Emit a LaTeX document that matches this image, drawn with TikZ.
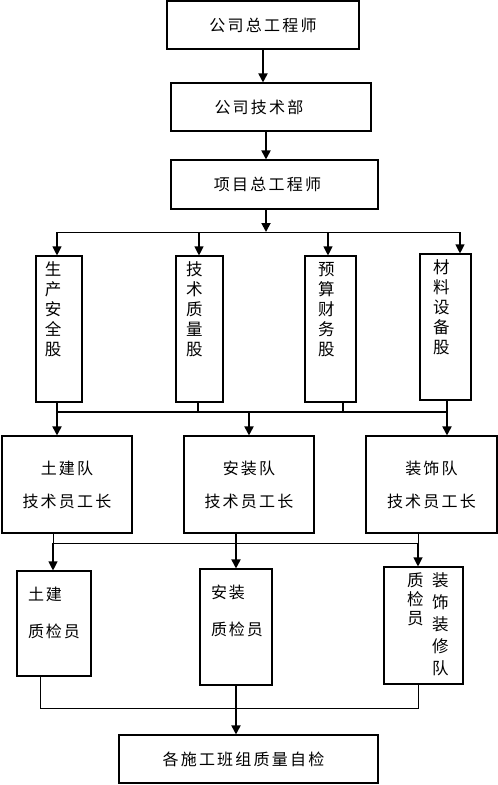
\documentclass[tikz,border=0pt]{standalone}
\usepackage{fontspec}
\setmainfont{Noto Sans CJK SC}
\usetikzlibrary{arrows.meta,positioning}

% top-aligned column of characters: width, height, left pad, text
\newcommand{\colstack}[4]{\parbox[c][#2][t]{#1}{\vspace*{6pt}\fontsize{16.5}{20}\selectfont\leftskip=#3 #4}}
% top-aligned two-line block: width, height, text
\newcommand{\qcstack}[3]{\parbox[c][#2][t]{#1}{\vspace*{16pt}\fontsize{16}{37}\selectfont\addfontfeature{LetterSpace=12}\leftskip=11pt #3}}

\tikzset{
  box/.style={draw, line width=1.1pt, inner sep=0pt, align=center},
  hbox/.style={box, font=\fontsize{16}{36}\selectfont\addfontfeature{LetterSpace=14}},
  arr/.style={line width=1.8pt, -{Triangle[width=9pt,length=9pt]}},
  tarr/.style={line width=1.1pt, -{Triangle[width=9pt,length=9pt]}},
  bus/.style={line width=1pt},
  thkbus/.style={line width=1.8pt}
}

\begin{document}
\begin{tikzpicture}[x=1pt, y=-1pt]
\useasboundingbox (0,0) rectangle (498,785);

% top chain
\node[hbox, minimum width=192pt, minimum height=48pt] (zgcs) at (263,25) {公司总工程师};
\node[hbox, minimum width=200pt, minimum height=48pt] (jsb) at (271,107) {公司技术部\hspace*{24pt}};
\node[hbox, minimum width=207pt, minimum height=49pt] (xmz) at (274.5,184.5) {项目总工程师\hspace*{14pt}};

% departments
\node[box] (sc) at (59,329) {\colstack{46pt}{146pt}{9pt}{生\\产\\安\\全\\股}};
\node[box] (jz) at (199.5,329) {\colstack{47pt}{146pt}{10pt}{技\\术\\质\\量\\股}};
\node[box] (ys) at (330.5,329) {\colstack{51pt}{146pt}{13pt}{预\\算\\财\\务\\股}};
\node[box] (cl) at (445.5,327) {\colstack{51pt}{146pt}{13pt}{材\\料\\设\\备\\股}};

% teams
\node[hbox, minimum width=130pt, minimum height=97pt] (tjd) at (67,484.5) {土建队\\[-3pt]技术员工长};
\node[hbox, minimum width=130pt, minimum height=97pt] (azd) at (249,484.5) {安装队\\[-3pt]技术员工长};
\node[hbox, minimum width=131pt, minimum height=97pt] (zsd) at (431.5,484.5) {装饰队\\[-3pt]技术员工长};

% quality inspectors
\node[box] (tjz) at (54,623.5) {\qcstack{74pt}{105pt}{土建\\质检员}};
\node[box] (azz) at (236,627) {\qcstack{72pt}{116pt}{安装\\质检员}};
\node[box] (zsz) at (423.5,625.5) {\parbox[c][117pt][t]{79pt}{\vspace*{6pt}\hspace*{23pt}%
  \parbox[t]{17pt}{\fontsize{16.5}{19}\selectfont 质\\检\\员}\hspace{8pt}%
  \parbox[t]{17pt}{\fontsize{16.5}{22}\selectfont 装\\饰\\装\\修\\队}}};

% self check
\node[hbox, minimum width=259pt, minimum height=48pt] (zj) at (248.5,759) {各施工班组质量自检\hspace*{10pt}};

% bus points
\coordinate (b0) at (266,232);
\coordinate (b1) at (57,232);
\coordinate (b2) at (199,232);
\coordinate (b3) at (328,232);
\coordinate (b4) at (460,232);
\coordinate (c1) at (57,412);
\coordinate (c2) at (198,412);
\coordinate (c3) at (343,412);
\coordinate (c4) at (447,412);
\coordinate (d2) at (249,412);
\coordinate (e1) at (53,543);
\coordinate (e2) at (236,543);
\coordinate (e3) at (418,543);
\coordinate (f1) at (40,708);
\coordinate (f3) at (418,708);

% top arrows
\draw[arr] (zgcs.south) -- (zgcs.south |- jsb.north);
\draw[arr] ([xshift=-5pt]jsb.south) -- ([xshift=-5pt]jsb.south |- xmz.north);
\draw[arr] (xmz.south -| b0) -- (b0);

% to departments
\draw[bus] (b1) -- (b4);
\foreach \b/\n in {b1/sc, b2/jz, b3/ys, b4/cl}
  \draw[tarr] (\b) -- (\b |- \n.north);

% departments to teams
\draw[thkbus] (c1 |- sc.south) -- (c1) -- (c4) -- (c4 |- cl.south);
\draw[thkbus] (c2 |- jz.south) -- (c2);
\draw[thkbus] (c3 |- ys.south) -- (c3);
\draw[arr] (c1) -- (c1 |- tjd.north);
\draw[arr] (d2) -- (d2 |- azd.north);
\draw[arr] (c4) -- (c4 |- zsd.north);

% teams to inspectors
\draw[bus] (e1 |- tjd.south) -- (e1) -- (e3) -- (e3 |- zsd.south);
\draw[tarr] (e1) -- (e1 |- tjz.north);
\draw[arr] (e2 |- azd.south) -- (e2 |- azz.north);
\draw[tarr] (e3) -- (e3 |- zsz.north);

% inspectors to self check
\draw[bus] (f1 |- tjz.south) -- (f1) -- (f3) -- (f3 |- zsz.south);
\draw[arr] (azz.south) -- (azz.south |- zj.north);
\end{tikzpicture}
\end{document}
